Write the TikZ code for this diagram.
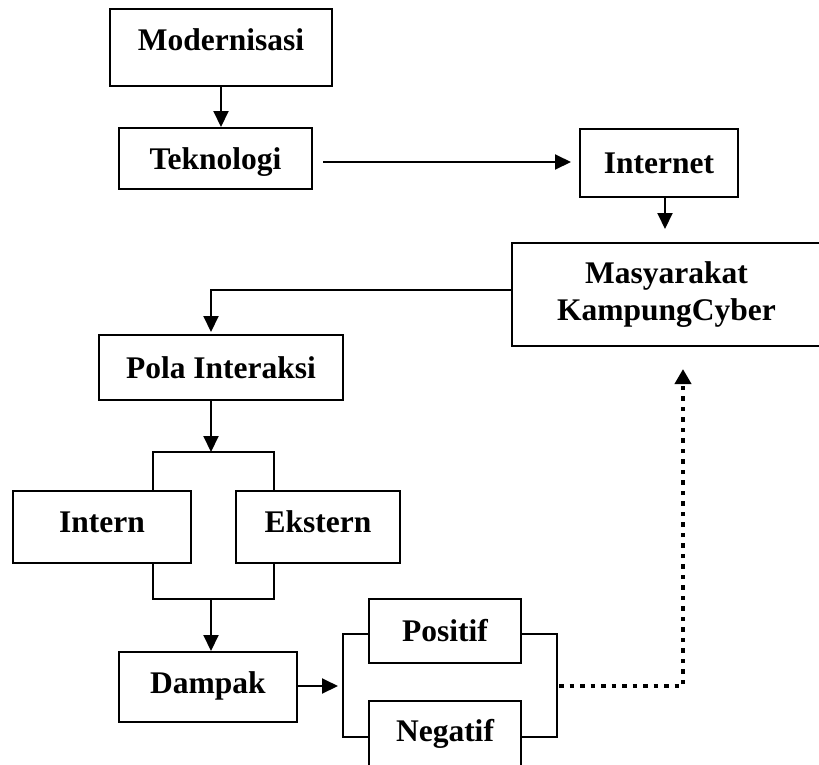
\documentclass[tikz,border=0pt]{standalone}
\usepackage{fontspec}
\setmainfont{Liberation Serif}
\usetikzlibrary{arrows.meta}
\tikzset{
  boxbase/.style={draw, line width=2pt, inner sep=0pt, anchor=center,
    font=\fontsize{31.5}{37}\selectfont\bfseries},
  box/.style={boxbase, text height=21pt, text depth=0pt},
  conn/.style={line width=2pt},
  arr/.style={conn, -{Triangle[length=16pt,width=15pt]}},
  dotarr/.style={line width=4pt, dash pattern=on 4.5pt off 6pt,
    -{Triangle[length=15pt,width=16pt]}}
}
\begin{document}
\begin{tikzpicture}[x=1pt,y=-1pt]
\useasboundingbox (0,0) rectangle (819,764);
% boxes
\node[box, minimum width=222pt, minimum height=77pt] (mod) at (221,47.5) {\raisebox{7.5pt}{Modernisasi}};
\node[box, minimum width=193pt, minimum height=61pt] (tek) at (215.5,158.5) {Teknologi};
\node[box, minimum width=158pt, minimum height=68pt] (inet) at (659,163) {Internet};
\node[boxbase, align=center, minimum width=309pt, minimum height=103pt] (mas) at (666.5,294.5) {Masyarakat\\KampungCyber};
\node[box, minimum width=244pt, minimum height=65pt] (pola) at (221,367.5) {Pola Interaksi};
\node[box, minimum width=178pt, minimum height=72pt] (intern) at (102,527) {\raisebox{5pt}{Intern}};
\node[box, minimum width=164pt, minimum height=72pt] (ekstern) at (318,527) {\raisebox{5pt}{Ekstern}};
\node[box, minimum width=178pt, minimum height=70pt] (dampak) at (208,687) {\raisebox{4.5pt}{Dampak}};
\node[box, minimum width=152pt, minimum height=64pt] (pos) at (445,631) {Positif};
\node[box, minimum width=152pt, minimum height=67pt] (neg) at (445,734.5) {\raisebox{3.5pt}{Negatif}};
% helper coordinates
\coordinate (a1) at (665,229);
\coordinate (b1) at (211,452);
\coordinate (b2) at (211,599);
\coordinate (b3) at (343,686);
\coordinate (b4) at (557,686);
% connectors
\draw[arr] (mod.south) -- (mod.south |- tek.north);
\draw[arr] ([xshift=10pt]tek.east |- 0,162) -- ([xshift=-8pt]inet.west |- 0,162);
\draw[arr] ([xshift=6pt]inet.south) -- (a1);
\draw[arr] ([yshift=4.5pt]mas.west) -| ([xshift=-10pt,yshift=2pt]pola.north);
\draw[arr] ([xshift=-10pt]pola.south) -- (b1);
\draw[conn] ([xshift=51pt]intern.north) |- (b1) -| ([xshift=-44pt]ekstern.north);
\draw[conn] ([xshift=51pt]intern.south) |- (b2) -| ([xshift=-44pt]ekstern.south);
\draw[arr] (b2) -- ([xshift=3pt]dampak.north);
\draw[arr] ([yshift=1pt]dampak.east) -- ([xshift=-5pt]b3);
\draw[conn] ([yshift=-3pt]pos.west) -| (b3) |- ([yshift=-2.5pt]neg.west);
\draw[conn] ([yshift=-3pt]pos.east) -| (b4) |- ([yshift=-2.5pt]neg.east);
\draw[dotarr] ([xshift=2pt]b4) -| ([xshift=16.5pt,yshift=-22pt]mas.south);
\end{tikzpicture}
\end{document}
